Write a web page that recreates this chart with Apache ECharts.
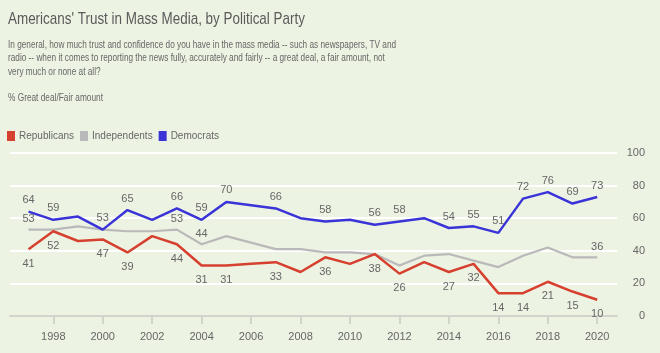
<!DOCTYPE html>
<html>
<head>
<meta charset="utf-8">
<script src="https://cdn.jsdelivr.net/npm/echarts@6/dist/echarts.min.js"></script>
<style>
html,body{margin:0;padding:0;background:#edf3e3;}
#chart{width:660px;height:353px;}
</style>
</head>
<body>
<div id="chart"></div>
<script>
var years = [1997,1998,1999,2000,2001,2002,2003,2004,2005,2006,2007,2008,2009,2010,2011,2012,2013,2014,2015,2016,2017,2018,2019,2020];
var republicans = [41,52,46,47,39,49,44,31,31,32,33,27,36,32,38,26,33,27,32,14,14,21,15,10];
var independents = [53,53,55,53,52,52,53,44,49,45,41,41,39,39,38,31,37,38,34,30,37,42,36,36];
var democrats = [64,59,61,53,65,59,66,59,70,68,66,60,58,59,56,58,60,54,55,51,72,76,69,73];
var repLabeled = [1997,1998,2000,2001,2003,2004,2005,2007,2009,2011,2012,2014,2015,2016,2017,2018,2019,2020];
var indLabeled = [1997,2003,2004,2020];
var demLabeled = [1997,1998,2000,2001,2003,2004,2005,2007,2009,2011,2012,2014,2015,2016,2017,2018,2019,2020];
var xTicks = [1998,2000,2002,2004,2006,2008,2010,2012,2014,2016,2018,2020];

var titleText = "Americans' Trust in Mass Media, by Political Party";
var subtitleText = "In general, how much trust and confidence do you have in the mass media -- such as newspapers, TV and\nradio -- when it comes to reporting the news fully, accurately and fairly -- a great deal, a fair amount, not\nvery much or none at all?";
var noteText = '% Great deal/Fair amount';

var FONT = '"Liberation Sans", Arial, sans-serif';

function build(vals, labeled) {
  return years.map(function (y, i) {
    return { value: [y, vals[i]], label: { show: labeled.indexOf(y) >= 0 } };
  });
}

var chart = echarts.init(document.getElementById('chart'));
chart.setOption({
  backgroundColor: '#edf3e3',
  animation: false,
  textStyle: { fontFamily: FONT },
  graphic: [
    { type: 'text', x: 8, y: 9, scaleX: 0.79, silent: true,
      style: { text: titleText, fontFamily: FONT, fontSize: 17, fill: '#5a5a5a', textVerticalAlign: 'top', lineHeight: 20 } },
    { type: 'text', x: 8, y: 38, scaleX: 0.785, silent: true,
      style: { text: subtitleText, fontFamily: FONT, fontSize: 10.5, fill: '#666', textVerticalAlign: 'top', lineHeight: 13.5 } },
    { type: 'text', x: 8, y: 92, scaleX: 0.79, silent: true,
      style: { text: noteText, fontFamily: FONT, fontSize: 10.5, fill: '#666', textVerticalAlign: 'top', lineHeight: 12 } }
  ],
  legend: {
    left: 2, top: 126, icon: 'rect', itemWidth: 8, itemHeight: 10, itemGap: 6,
    textStyle: { fontFamily: FONT, fontSize: 10, color: '#666', padding: [0, 0, 0, -1] },
    data: ['Republicans', 'Independents', 'Democrats']
  },
  grid: { left: 10, right: 43, top: 153, bottom: 37 },
  xAxis: {
    type: 'value', min: 1996.25, max: 2020.8,
    axisLine: { show: true, lineStyle: { color: '#d2d4cc', width: 2 } },
    axisTick: { show: true, customValues: xTicks, length: 8, lineStyle: { color: '#d2d4cc', width: 2 } },
    axisLabel: { customValues: xTicks, margin: 15, fontFamily: FONT, fontSize: 11, color: '#666', formatter: function (v) { return String(v); } },
    splitLine: { show: false }
  },
  yAxis: {
    type: 'value', position: 'right', min: 0, max: 100, interval: 20,
    axisLine: { show: false }, axisTick: { show: false },
    axisLabel: { align: 'right', margin: 28, fontFamily: FONT, fontSize: 11, color: '#666' },
    splitLine: { show: true, lineStyle: { color: '#ffffff', width: 2 } }
  },
  series: [
    { name: 'Republicans', type: 'line', data: build(republicans, repLabeled), showSymbol: true, symbol: 'circle', symbolSize: 0,
      itemStyle: { color: '#d6402f' }, lineStyle: { color: '#d6402f', width: 2.5 },
      label: { position: 'bottom', distance: 9, fontFamily: FONT, fontSize: 11, color: '#666' }, z: 3 },
    { name: 'Independents', type: 'line', data: build(independents, indLabeled), showSymbol: true, symbol: 'circle', symbolSize: 0,
      itemStyle: { color: '#b9b9b9' }, lineStyle: { color: '#b9b9b9', width: 2.2 },
      label: { position: 'top', distance: 5, fontFamily: FONT, fontSize: 11, color: '#666' }, z: 2 },
    { name: 'Democrats', type: 'line', data: build(democrats, demLabeled), showSymbol: true, symbol: 'circle', symbolSize: 0,
      itemStyle: { color: '#3a34d8' }, lineStyle: { color: '#3a34d8', width: 2.5 },
      label: { position: 'top', distance: 6, fontFamily: FONT, fontSize: 11, color: '#666' }, z: 4 }
  ]
});
</script>
</body>
</html>
